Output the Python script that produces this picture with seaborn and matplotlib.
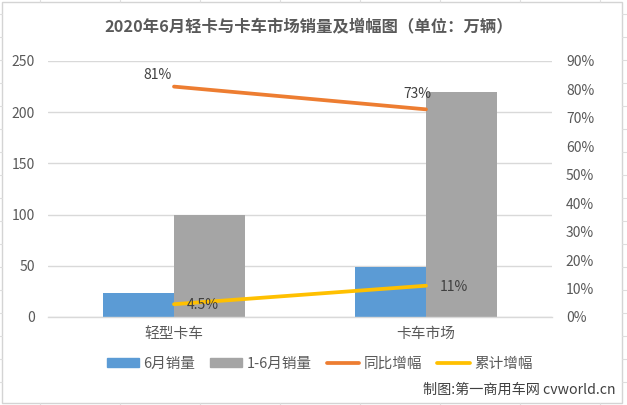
import matplotlib
matplotlib.use("Agg")
import matplotlib.pyplot as plt
from matplotlib.lines import Line2D
from matplotlib.patches import Rectangle
import pandas as pd
import seaborn as sns

categories = ["轻型卡车", "卡车市场"]
june_sales = [23.5, 49]
h1_sales = [100, 220]
yoy_growth = [0.81, 0.73]
cum_growth = [0.045, 0.11]
left_ticks = [0, 50, 100, 150, 200, 250]
right_ticks = [0, .1, .2, .3, .4, .5, .6, .7, .8, .9]
title = "2020年6月轻卡与卡车市场销量及增幅图\uff08单位\uff1a万辆\uff09"
credit = "制图:第一商用车网 cvworld.cn"

sns.set_theme(style="white")
plt.rcParams["font.family"] = ["Noto Sans CJK SC", "DejaVu Sans"]
TEXT = "#595959"
GRID = "#D9D9D9"
W, H = 627, 405

fig = plt.figure(figsize=(W / 100, H / 100), dpi=100, facecolor="white")
ax = fig.add_axes([48 / W, 1 - 317 / H, 504 / W, 256 / H])

bars = pd.DataFrame({
    "cat": categories * 2,
    "value": june_sales + h1_sales,
    "series": ["6月销量"] * 2 + ["1-6月销量"] * 2,
})
sns.barplot(data=bars, x="cat", y="value", hue="series", ax=ax,
            palette=["#5B9BD5", "#A5A5A5"], width=0.567, gap=0,
            saturation=1, legend=False, zorder=2, linewidth=0)
ax.set_xlim(-0.5, 1.5)
ax.set_ylim(0, 250)
ax.set_yticks(left_ticks)
ax.set_xlabel("")
ax.set_ylabel("")
ax.yaxis.grid(True, color=GRID, lw=1)
ax.set_axisbelow(True)
for s in ["top", "left", "right"]:
    ax.spines[s].set_visible(False)
ax.spines["bottom"].set_color(GRID)
ax.spines["bottom"].set_linewidth(1)
ax.tick_params(axis="y", length=0, pad=9.5, labelsize=10, labelcolor=TEXT)
ax.tick_params(axis="x", length=0, pad=7, labelsize=10.6, labelcolor=TEXT)

ax2 = ax.twinx()
sns.lineplot(x=categories, y=yoy_growth, ax=ax2, color="#ED7D31", lw=2.7,
             sort=False, errorbar=None, solid_capstyle="round")
sns.lineplot(x=categories, y=cum_growth, ax=ax2, color="#FFC000", lw=2.7,
             sort=False, errorbar=None, solid_capstyle="round")
ax2.set_xlim(-0.5, 1.5)
ax2.set_ylim(0, 0.9)
ax2.set_yticks(right_ticks)
ax2.set_yticklabels([f"{round(t * 100)}%" for t in right_ticks])
ax2.set_ylabel("")
ax2.grid(False)
for s in ["top", "left", "right", "bottom"]:
    ax2.spines[s].set_visible(False)
ax2.tick_params(axis="y", length=0, pad=10, labelsize=10, labelcolor=TEXT)


def label(i, values, text, dx, dy):
    ax2.annotate(text, (i, values[i]), xytext=(dx * .72, dy * .72),
                 textcoords="offset points", ha="center", va="center",
                 fontsize=10, color="#404040")


label(0, yoy_growth, "81%", -16, 12)
label(1, yoy_growth, "73%", -9, 15)
label(0, cum_growth, "4.5%", 29, -1)
label(1, cum_growth, "11%", 28, -1)

fig.text(308.5 / W, 1 - 26 / H, title, ha="center", va="center", fontsize=11.75,
         fontweight="bold", color=TEXT)
fig.text(616 / W, 1 - 390 / H, credit, ha="right", va="center", fontsize=10.2,
         color="#404040")

handles = [
    Rectangle((0, 0), 1, 1, color="#5B9BD5"),
    Rectangle((0, 0), 1, 1, color="#A5A5A5"),
    Line2D([], [], color="#ED7D31", lw=2.7, solid_capstyle="round"),
    Line2D([], [], color="#FFC000", lw=2.7, solid_capstyle="round"),
]
fig.legend(handles, ["6月销量", "1-6月销量", "同比增幅", "累计增幅"],
           loc="center", bbox_to_anchor=(319.5 / W, 1 - 364 / H), ncol=4,
           frameon=False, fontsize=10.5, labelcolor=TEXT, handlelength=2.2,
           handleheight=0.55, handletextpad=0.3, columnspacing=1.05,
           borderpad=0, borderaxespad=0)

# chart frame and the faint worksheet cell lines around it
fig.add_artist(Rectangle((1.5 / W, 1 - 402.5 / H), 620.5 / W, 401 / H,
                         transform=fig.transFigure, fill=False,
                         edgecolor="#D4D4D4", lw=1))
for x in [40, 120, 200, 280, 360, 440, 520, 600]:
    for y0, y1 in [(0, 1.5), (402.5, 405)]:
        fig.add_artist(Line2D([x / W, x / W], [1 - y0 / H, 1 - y1 / H], color="#DDDDDD", lw=.8))
for y in [14, 37, 60, 83, 106, 129, 152, 175, 198, 221, 244, 267, 290, 313, 336, 359, 382]:
    fig.add_artist(Line2D([0, 1.5 / W], [1 - y / H] * 2, color="#DDDDDD", lw=.8))
    fig.add_artist(Line2D([622 / W, 1], [1 - y / H] * 2, color="#DDDDDD", lw=.8))

fig.savefig("out.png", dpi=100, facecolor="white")
